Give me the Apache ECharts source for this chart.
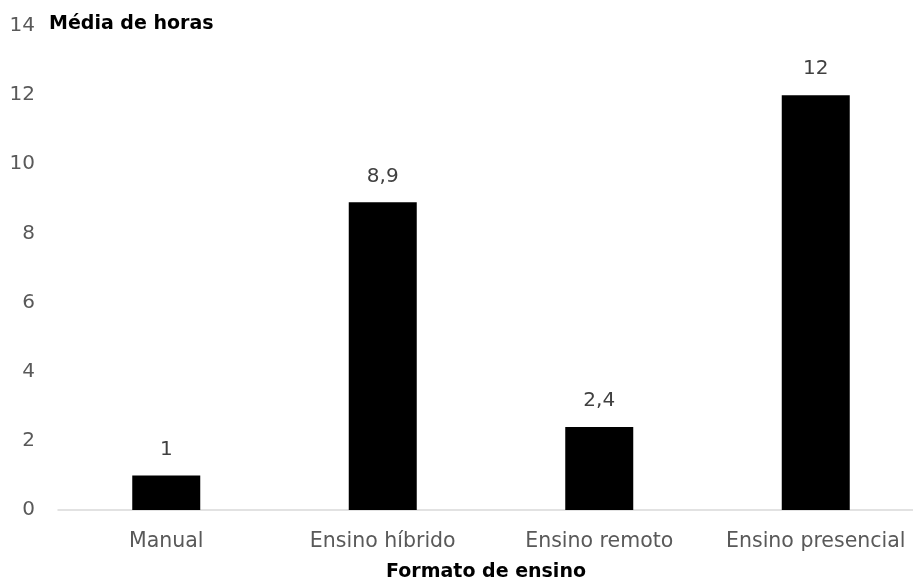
<!DOCTYPE html>
<html>
<head>
<meta charset="utf-8">
<script src="https://cdn.jsdelivr.net/npm/echarts@6/dist/echarts.min.js"></script>
<style>
  html, body { margin: 0; padding: 0; background: #fff; }
  #chart { width: 913px; height: 580px; }
</style>
</head>
<body>
<div id="chart"></div>
<script>
// Average hours per teaching format
const categories = ['Manual', 'Ensino híbrido', 'Ensino remoto', 'Ensino presencial'];
const mediaHoras = [1, 8.9, 2.4, 12];
const yTicks = [0, 2, 4, 6, 8, 10, 12, 14];

const FONT = '"DejaVu Sans", sans-serif';

const chart = echarts.init(document.getElementById('chart'), null, { renderer: 'canvas' });

chart.setOption({
  backgroundColor: '#ffffff',
  animation: false,
  title: {
    text: 'Média de horas',
    left: 44,
    top: 10,
    textStyle: { fontFamily: FONT, fontSize: 19, fontWeight: 'bold', color: '#000000' }
  },
  grid: {
    left: 58,
    top: 26,
    bottom: 70,
    width: 866,
    outerBoundsMode: 'none'
  },
  xAxis: {
    type: 'category',
    data: categories,
    name: 'Formato de ensino',
    nameLocation: 'middle',
    nameGap: 53,
    nameTextStyle: {
      fontFamily: FONT, fontSize: 19, fontWeight: 'bold', color: '#000000',
      padding: [0, 10, 0, 0]
    },
    axisLine: { show: true, lineStyle: { color: '#d9d9d9', width: 1.5 } },
    axisTick: { show: false },
    axisLabel: {
      interval: 0,
      hideOverlap: false,
      fontFamily: FONT, fontSize: 20.5, color: '#595959', margin: 21
    }
  },
  yAxis: {
    type: 'value',
    min: yTicks[0],
    max: yTicks[yTicks.length - 1],
    interval: 2,
    axisLine: { show: false },
    axisTick: { show: false },
    splitLine: { show: false },
    axisLabel: { fontFamily: FONT, fontSize: 20, color: '#595959', margin: 23 }
  },
  series: [{
    type: 'bar',
    data: mediaHoras,
    barWidth: 68,
    itemStyle: { color: '#000000' },
    label: {
      show: true,
      position: 'top',
      distance: 16,
      fontFamily: FONT,
      fontSize: 20,
      color: '#404040',
      formatter: p => String(p.value).replace('.', ',')
    }
  }]
});
</script>
</body>
</html>
